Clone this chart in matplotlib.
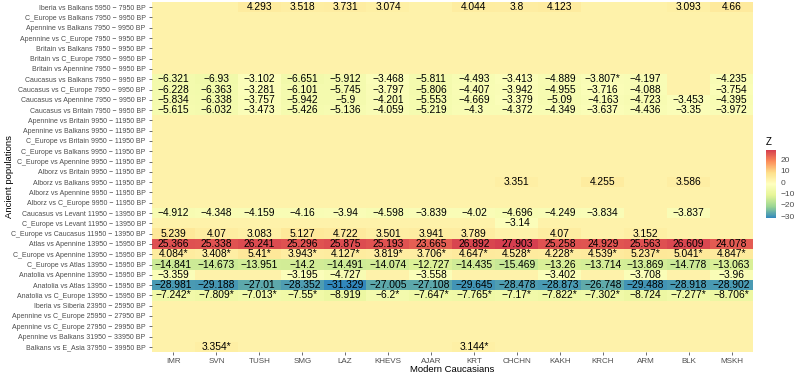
import numpy as np
import matplotlib
matplotlib.use("Agg")
import matplotlib.pyplot as plt
from matplotlib.colors import LinearSegmentedColormap

plt.rcParams['font.family'] = ['Liberation Sans', 'DejaVu Sans']

# modern populations (x) and ancient comparisons (y, top to bottom)
modern = ["IMR", "SVN", "TUSH", "SMG", "LAZ", "KHEVS", "AJAR", "KRT",
          "CHCHN", "KAKH", "KRCH", "ARM", "BLK", "MSKH"]

ancient = [
    "Iberia vs Balkans 5950 - 7950 BP",
    "C_Europe vs Balkans 7950 - 9950 BP",
    "Apennine vs Balkans 7950 - 9950 BP",
    "Apennine vs C_Europe 7950 - 9950 BP",
    "Britain vs Balkans 7950 - 9950 BP",
    "Britain vs C_Europe 7950 - 9950 BP",
    "Britain vs Apennine 7950 - 9950 BP",
    "Caucasus vs Balkans 7950 - 9950 BP",
    "Caucasus vs C_Europe 7950 - 9950 BP",
    "Caucasus vs Apennine 7950 - 9950 BP",
    "Caucasus vs Britain 7950 - 9950 BP",
    "Apennine vs Britain 9950 - 11950 BP",
    "Apennine vs Balkans 9950 - 11950 BP",
    "C_Europe vs Britain 9950 - 11950 BP",
    "C_Europe vs Balkans 9950 - 11950 BP",
    "C_Europe vs Apennine 9950 - 11950 BP",
    "Alborz vs Britain 9950 - 11950 BP",
    "Alborz vs Balkans 9950 - 11950 BP",
    "Alborz vs Apennine 9950 - 11950 BP",
    "Alborz vs C_Europe 9950 - 11950 BP",
    "Caucasus vs Levant 11950 - 13950 BP",
    "C_Europe vs Levant 11950 - 13950 BP",
    "C_Europe vs Caucasus 11950 - 13950 BP",
    "Atlas vs Apennine 13950 - 15950 BP",
    "C_Europe vs Apennine 13950 - 15950 BP",
    "C_Europe vs Atlas 13950 - 15950 BP",
    "Anatolia vs Apennine 13950 - 15950 BP",
    "Anatolia vs Atlas 13950 - 15950 BP",
    "Anatolia vs C_Europe 13950 - 15950 BP",
    "Iberia vs Siberia 23950 - 25950 BP",
    "Apennine vs C_Europe 25950 - 27950 BP",
    "Apennine vs C_Europe 27950 - 29950 BP",
    "Apennine vs Balkans 31950 - 33950 BP",
    "Balkans vs E_Asia 37950 - 39950 BP",
]

N = None
# labelled Z values (None = not shown on the chart)
z_rows = {
    0: [N, N, 4.293, 3.518, 3.731, 3.074, N, 4.044, 3.8, 4.123, N, N, 3.093, 4.66],
    7: [-6.321, -6.93, -3.102, -6.651, -5.912, -3.468, -5.811, -4.493, -3.413, -4.889, -3.807, -4.197, N, -4.235],
    8: [-6.228, -6.363, -3.281, -6.101, -5.745, -3.797, -5.806, -4.407, -3.942, -4.955, -3.716, -4.088, N, -3.754],
    9: [-5.834, -6.338, -3.757, -5.942, -5.9, -4.201, -5.553, -4.669, -3.379, -5.09, -4.163, -4.723, -3.453, -4.395],
    10: [-5.615, -6.032, -3.473, -5.426, -5.136, -4.059, -5.219, -4.3, -4.372, -4.349, -3.637, -4.436, -3.35, -3.972],
    17: [N, N, N, N, N, N, N, N, 3.351, N, 4.255, N, 3.586, N],
    20: [-4.912, -4.348, -4.159, -4.16, -3.94, -4.598, -3.839, -4.02, -4.696, -4.249, -3.834, N, -3.837, N],
    21: [N, N, N, N, N, N, N, N, -3.14, N, N, N, N, N],
    22: [5.239, 4.07, 3.083, 5.127, 4.722, 3.501, 3.941, 3.789, N, 4.07, N, 3.152, N, N],
    23: [25.366, 25.338, 26.241, 25.296, 25.875, 25.193, 23.665, 26.892, 27.903, 25.258, 24.929, 25.563, 26.609, 24.078],
    24: [4.084, 3.408, 5.41, 3.943, 4.127, 3.819, 3.706, 4.647, 4.528, 4.228, 4.539, 5.237, 5.041, 4.847],
    25: [-14.841, -14.673, -13.951, -14.2, -14.491, -14.074, -12.727, -14.435, -15.469, -13.26, -13.714, -13.869, -14.778, -13.063],
    26: [-3.359, N, N, -3.195, -4.727, N, -3.558, N, N, -3.402, N, -3.708, N, -3.96],
    27: [-28.981, -29.188, -27.01, -28.352, -31.329, -27.005, -27.108, -29.645, -28.478, -28.873, -26.748, -29.488, -28.918, -28.902],
    28: [-7.242, -7.809, -7.013, -7.55, -8.919, -6.2, -7.647, -7.765, -7.17, -7.822, -7.302, -8.724, -7.277, -8.706],
    33: [N, 3.354, N, N, N, N, N, 3.144, N, N, N, N, N, N],
}

# cells marked with an asterisk
starred = {
    7: ["KRCH"],
    24: modern,
    28: ["IMR", "SVN", "TUSH", "SMG", "KHEVS", "AJAR", "KRT", "CHCHN", "KAKH", "KRCH", "BLK", "MSKH"],
    33: ["SVN", "KRT"],
}

# rough guess of the fill behind the unlabelled cells
hidden_fill = 2.0

nr, nc = len(ancient), len(modern)
fill = np.full((nr, nc), hidden_fill)
for r, vals in z_rows.items():
    for c, v in enumerate(vals):
        if v is not None:
            fill[r, c] = v

cmap = LinearSegmentedColormap.from_list(
    "spectral7", ["#3288BD", "#99D594", "#E6F598", "#FFFFBF", "#FEE08B", "#FC8D59", "#D53E4F"])
vmin, vmax = fill.min(), fill.max()

fig = plt.figure(figsize=(7.97, 3.74), dpi=100)
ax = fig.add_axes([152 / 797, 1 - 352 / 374, 601 / 797, 350 / 374])
im = ax.imshow(fill, cmap=cmap, vmin=vmin, vmax=vmax, aspect="auto",
               interpolation="nearest")

for r, vals in z_rows.items():
    stars = starred.get(r, [])
    for c, v in enumerate(vals):
        if v is None:
            continue
        s = ("%.3f" % v).rstrip("0").rstrip(".").replace("-", "\u2212")
        if modern[c] in stars:
            s += "*"
        ax.text(c, r, s, ha="center", va="center", fontsize=7.4, color="black")

ax.set_xticks(range(nc))
ax.set_xticklabels(modern, fontsize=5.8, color="#4D4D4D")
ax.set_yticks(range(nr))
ax.set_yticklabels([a.replace(" - ", " \u2212 ") for a in ancient], fontsize=5.0, color="#4D4D4D")
ax.tick_params(length=2.5, width=0.5, color="#333333", pad=2)
for sp in ax.spines.values():
    sp.set_visible(False)

# axis titles placed directly
fig.text(452 / 797, 1 - 369 / 374, "Modern Caucasians", fontsize=6.8, ha="center", va="center")
fig.text(10 / 797, 1 - 177 / 374, "Ancient populations", fontsize=6.8, ha="center", va="center",
         rotation=90)

# colour bar legend
cax = fig.add_axes([766 / 797, 1 - 218 / 374, 10 / 797, 68 / 374])
cb = fig.colorbar(im, cax=cax, ticks=[20, 10, 0, -10, -20, -30])
cb.outline.set_visible(False)
cax.tick_params(length=2, width=0.6, color="white", labelsize=6, labelcolor="#4D4D4D", pad=1)
cb.ax.set_yticklabels(["20", "10", "0", "\u221210", "\u221220", "\u221230"])
fig.text(766 / 797, 1 - 142 / 374, "Z", fontsize=7, va="center", ha="left")

fig.savefig("out.png", dpi=100)
